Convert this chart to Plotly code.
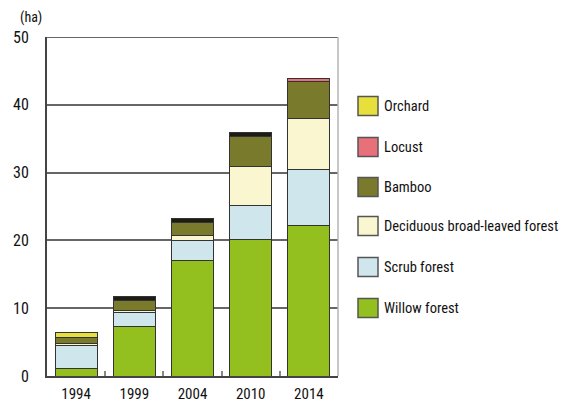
import plotly.graph_objects as go

years = ["1994", "1999", "2004", "2010", "2014"]
willow = [1.1, 7.3, 17.1, 20.2, 22.2]
scrub = [3.4, 2.0, 2.9, 4.9, 8.2]
deciduous = [0.25, 0.4, 0.7, 5.8, 7.6]
bamboo = [1.0, 1.5, 2.0, 4.4, 5.4]
locust = [0.0, 0.0, 0.0, 0.0, 0.5]
orchard = [0.6, 0.5, 0.6, 0.6, 0.0]

series = [
    ("Willow forest", willow, "#93c01f"),
    ("Scrub forest", scrub, "#cfe6ed"),
    ("Deciduous broad-leaved forest", deciduous, "#faf6cf"),
    ("Bamboo", bamboo, "#7a7a2c"),
    ("Locust", locust, "#e8707a"),
    ("Orchard", orchard, "#e6df3c"),
]

FONT = "Liberation Sans Narrow, Roboto Condensed, DejaVu Sans Condensed, sans-serif"

fig = go.Figure()
for name, vals, col in series:
    fill = col
    if name == "Orchard":
        # thin top strips print almost black in the reference, except 1994
        fill = [col if i == 0 else "#1c1c14" for i in range(len(vals))]
    fig.add_trace(go.Bar(
        x=years, y=vals, name=name,
        marker=dict(color=fill, line=dict(color="#333333", width=1)),
        showlegend=False,
    ))

L, R, T, B = 47, 227, 37, 30
W, H = 565, 406
pw, ph = W - L - R, H - T - B

def px_x(px):
    return (px - L) / pw

def px_y(py):
    return (H - B - py) / ph

shapes = []
annotations = []
legend_centers = [106, 147, 187, 226, 267, 308]
for (name, vals, col), cy in zip(reversed(series), legend_centers):
    shapes.append(dict(type="rect", xref="paper", yref="paper",
                       x0=px_x(358), x1=px_x(378), y0=px_y(cy + 9.5), y1=px_y(cy - 9.5),
                       fillcolor=col, line=dict(color="#555555", width=1.5)))
    annotations.append(dict(text=name, xref="paper", yref="paper",
                            x=px_x(382), y=px_y(cy), xanchor="left", yanchor="middle",
                            showarrow=False, font=dict(size=14.5, color="#111111", family=FONT)))

# right frame line and top line
shapes.append(dict(type="line", xref="paper", yref="paper", x0=1, x1=1, y0=0, y1=1,
                   line=dict(color="#b5b5b5", width=1.5)))
shapes.append(dict(type="line", xref="paper", yref="y", x0=0, x1=1, y0=50, y1=50,
                   line=dict(color="#666666", width=2), layer="below"))

annotations.append(dict(text="(ha)", xref="paper", yref="paper", x=px_x(18), y=px_y(17),
                        xanchor="left", yanchor="middle", showarrow=False,
                        font=dict(size=14, color="#111111", family=FONT)))

fig.update_layout(
    width=W, height=H,
    margin=dict(l=L, r=R, t=T, b=B),
    barmode="stack", bargap=0.28,
    plot_bgcolor="white", paper_bgcolor="white",
    font=dict(family=FONT, size=14, color="#111111"),
    shapes=shapes, annotations=annotations,
    xaxis=dict(showline=True, linecolor="#444444", linewidth=2, automargin=False,
               ticks="inside", tickson="boundaries", ticklen=5, tickcolor="#888888",
               tickwidth=1.5, showgrid=False, ticklabelstandoff=3,
               tickfont=dict(size=15, family=FONT)),
    yaxis=dict(range=[0, 50], tickvals=[0, 10, 20, 30, 40, 50], automargin=False,
               showline=True, linecolor="#444444", linewidth=2,
               showgrid=True, gridcolor="#666666", gridwidth=2,
               zeroline=False, ticks="", ticklabelstandoff=13,
               tickfont=dict(size=16, family=FONT)),
)

fig.write_html("out.html")
